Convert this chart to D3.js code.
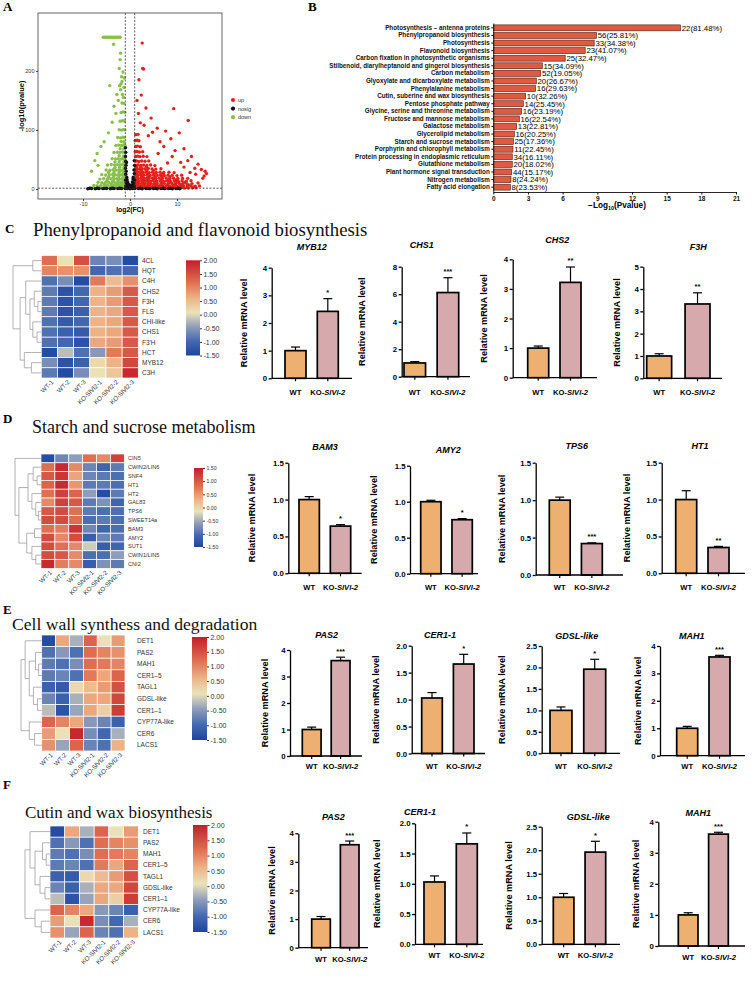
<!DOCTYPE html>
<html>
<head>
<meta charset="utf-8">
<script src="https://cdn.jsdelivr.net/npm/d3@7"></script>
<style>
  body { margin: 0; background: #fff; }
  svg { display: block; }
</style>
</head>
<body>
<svg id="fig" width="755" height="984"></svg>
<script>
// ---------------- data ----------------

// A: volcano, points are [log2(FC), -log10(pvalue)]
const volcanoGroups = ['up', 'nosig', 'down'];
const volcanoColors = ['#E3211C', '#111111', '#88C04B'];
const volcanoUp = [
  [1.2,1.5],[1.6,1.8],[2.1,1.4],[2.7,1.7],[3.3,1.5],[3.9,1.9],[4.6,1.6],[5.2,1.4],[5.9,1.8],[6.5,1.5],[7.2,1.7],[7.9,1.4],[8.6,1.8],[9.3,1.6],[10.1,1.5],[10.8,1.7],[11.6,1.4],[12.4,1.6],[13.3,1.5],[14.1,1.8],
  [1.5,3.3],[2.4,3.1],[3.6,3.5],[4.8,3.2],[6.0,3.4],[7.3,3.1],[8.5,3.5],[9.7,3.2],[11.0,3.4],[12.3,3.1],[13.6,3.3],
  [1.3,5],[1.8,4.6],[2.4,5.3],[3.0,4.8],[3.6,5.2],[4.2,4.7],[4.9,5.1],[5.6,4.9],[6.3,5.4],[7.0,4.6],[7.7,5.0],[8.4,5.3],[9.1,4.8],[9.9,5.1],[10.6,4.7],[11.4,5.2],[12.2,4.9],[13.0,5.0],[13.9,4.7],[14.8,5.2],
  [1.6,7],[2.8,7.2],[4.0,6.8],[5.3,7.1],[6.7,6.9],[8.0,7.2],[9.4,6.8],[10.9,7.1],[12.5,7],
  [1.1,9],[1.5,9.4],[2.0,8.7],[2.6,9.2],[3.2,8.8],[3.8,9.5],[4.5,9.1],[5.1,8.6],[5.8,9.3],[6.6,8.9],[7.3,9.4],[8.1,8.8],[8.9,9.2],[9.7,8.7],[10.5,9.3],[11.3,9.0],[12.1,8.8],[13.2,9.1],[14.5,10],
  [1.7,11],[2.9,11.2],[4.1,10.8],[5.4,11.1],[6.9,11],[8.4,11.2],[9.9,10.9],[11.6,11.1],
  [1.4,13],[1.9,13.6],[2.5,13.2],[3.1,13.9],[3.7,13.4],[4.4,13.1],[5.0,13.8],[5.7,13.3],[6.4,13.6],[7.1,13.0],[7.8,13.7],[8.6,13.2],[9.4,13.5],[10.3,13.1],[11.1,13.6],[12.0,13.3],[13.0,14],
  [1.6,15.5],[2.7,15.7],[3.9,15.3],[5.2,15.6],[6.7,15.4],[8.2,15.6],[9.8,15.3],
  [1.2,18],[1.7,18.5],[2.3,17.8],[2.9,18.4],[3.5,17.9],[4.1,18.6],[4.8,18.1],[5.5,17.7],[6.2,18.3],[6.9,18.0],[7.7,18.5],[8.5,17.8],[9.3,18.2],[10.2,18.0],[11.2,17.6],[12.3,18],
  [1.5,20.5],[2.6,20.7],[3.9,20.3],[5.3,20.6],[6.8,20.4],[8.5,20.6],
  [1.3,23],[1.8,23.5],[2.4,22.8],[3.0,23.4],[3.7,23.1],[4.3,22.7],[5.0,23.6],[5.8,23.0],[6.5,23.3],[7.3,22.9],[8.1,23.4],[9.0,23.0],[10.0,22.6],[11.0,23.2],
  [1.5,25.5],[2.6,25.7],[3.8,25.3],[5.2,25.6],[6.9,25.4],
  [1.2,28],[1.6,28.6],[2.2,27.8],[2.8,28.4],[3.4,28.1],[4.1,27.7],[4.8,28.5],[5.6,28.0],[6.4,28.3],[7.2,27.9],[8.3,28.2],[9.4,27.6],
  [1.4,31],[2.4,31.2],[3.6,30.8],[5.0,31.1],
  [1.1,34],[1.5,34.5],[2.0,33.7],[2.6,34.3],[3.2,33.9],[3.9,34.6],[4.7,34.0],[5.5,33.6],[6.6,34.2],
  [1.4,37],[2.3,37.2],[3.5,36.8],
  [1.2,40],[1.7,40.6],[2.3,39.7],[2.9,40.3],[3.6,39.9],[4.4,40.5],[5.3,39.6],
  [1.1,47],[1.4,47.5],[1.9,46.6],[2.5,47.3],[3.2,46.9],[4.0,47.4],
  [1.2,55],[1.6,55.6],[2.1,54.7],[2.8,55.3],[3.6,54.8],
  [1.1,63],[1.5,63.5],[2.0,62.6],[2.7,63.2],
  [1.2,72],[1.6,72.5],[2.2,71.6],
  [1.1,82],[1.5,82.4],[1.9,81.6],
  [1.2,92],[1.7,92.5],
  [2.6,247],[2.7,204],[2.9,203],[1.9,185],[2.4,159],[1.5,150],[3.4,137],[9.3,136],[12.4,116],[4.5,120],[1.8,128],[2.2,112],
  [3.0,108],[5.8,103],[7.6,98],[4.8,96],[10.5,95],[8.7,85],[3.9,90],[6.4,80],[7.2,72],[11.5,68],[9.6,65],[13.1,55],
  [12.3,48],[14.5,42],[10.8,45],[15.2,33],[16.0,30],[13.8,35],[9.0,55],[6.0,60],[8.0,44],[11.5,37],[14.0,25],[15.5,18],
  [12.8,28],[16.3,26],[15.8,22]
];
const volcanoDown = [
  [-1.2,1.8],[-1.6,1.5],[-2.1,2.0],[-2.6,1.6],[-3.1,1.9],[-3.7,1.5],[-4.3,1.8],[-4.9,1.6],[-5.6,2.0],[-6.3,1.7],[-7.0,1.5],[-7.8,1.9],[-8.5,1.6],
  [-1.5,4],[-2.6,4.2],[-3.8,3.8],[-5.1,4.1],[-6.5,3.9],
  [-1.3,6],[-1.8,5.6],[-2.3,6.3],[-2.9,5.8],[-3.5,6.2],[-4.1,5.7],[-4.8,6.4],[-5.5,5.9],[-6.2,6.1],[-7.0,5.6],[-7.7,6.0],
  [-1.6,8.5],[-2.7,8.7],[-4.0,8.3],[-5.4,8.6],
  [-1.1,11],[-1.5,11.5],[-2.0,10.6],[-2.6,11.3],[-3.2,10.8],[-3.8,11.4],[-4.5,10.9],[-5.2,11.2],[-6.0,10.7],[-6.8,11.3],
  [-1.5,14],[-2.5,14.2],[-3.6,13.8],[-4.9,14.1],
  [-1.3,17],[-1.7,17.5],[-2.2,16.6],[-2.8,17.3],[-3.4,16.8],[-4.1,17.4],[-4.8,16.9],[-5.6,17.2],[-6.4,16.7],
  [-1.4,20.5],[-2.4,20.7],[-3.5,20.3],[-4.6,20.6],
  [-1.2,24],[-1.6,24.6],[-2.0,23.7],[-2.5,24.3],[-3.1,23.8],[-3.7,24.5],[-4.4,24.0],[-5.2,23.6],[-6.0,24.2],
  [-1.4,28],[-2.3,28.2],[-3.4,27.8],[-4.6,28.1],
  [-1.1,32],[-1.4,32.6],[-1.9,31.7],[-2.4,32.4],[-3.0,31.9],[-3.6,32.5],[-4.3,31.8],[-5.1,32.2],
  [-1.3,36.5],[-2.2,36.7],[-3.2,36.3],
  [-1.2,41],[-1.6,41.6],[-2.1,40.7],[-2.7,41.3],[-3.3,40.8],[-4.0,41.5],[-4.8,40.6],
  [-1.3,46],[-2.3,46.2],[-3.2,45.8],
  [-1.1,51],[-1.5,51.6],[-1.9,50.7],[-2.5,51.3],[-3.1,50.8],[-3.8,51.4],
  [-1.4,56],[-2.3,56.2],
  [-1.2,62],[-1.6,62.6],[-2.1,61.7],[-2.7,62.3],[-3.4,61.8],
  [-1.3,68],[-2.1,68.2],
  [-1.1,74],[-1.4,74.5],[-1.8,73.6],[-2.4,74.2],[-3.0,73.8],
  [-1.3,80],[-1.9,80.3],
  [-1.2,87],[-1.5,87.5],[-2.0,86.6],[-2.6,87.2],
  [-1.1,100],[-1.4,100.5],[-1.8,99.6],[-2.3,100.2],
  [-1.2,115],[-1.6,115.5],[-2.1,114.6],
  [-1.1,130],[-1.5,130.5],[-1.9,129.6],
  [-1.3,145],[-1.7,145.5],
  [-5.7,257],[-5.4,257],[-5.1,257],[-4.8,257],[-4.5,257],[-4.2,257],[-3.9,257],[-3.6,257],[-3.3,257],[-3.0,257],[-2.7,257],[-2.4,257],[-2.1,257],
  [-3.5,245],[-2.1,219],[-2.3,204],[-4.3,175],[-1.8,190],[-1.6,160],[-2.0,168],[-1.4,155],[-2.5,150],[-1.3,172],[-7.0,60],
  [-7.5,48],[-6.2,72],[-3.0,128],[-3.8,113],[-4.6,95],[-5.5,80],[-8.2,30],[-6.8,40],[-3.4,140],[-2.8,160],[-1.9,178],
  [-2.0,230],[-1.5,198],[-1.7,182],[-2.2,175],[-1.2,188]
];
const volcanoNosig = [
  [-9.0,0.4],[-8.2,0.8],[-7.4,0.3],[-6.6,0.9],[-5.8,0.5],[-5.0,0.7],[-4.2,0.4],[-3.4,0.9],[-2.6,0.6],[-1.8,0.8],[-1.0,0.5],[-0.5,0.9],
  [0.0,0.4],[0.5,0.8],[1.0,0.6],[1.8,0.9],[2.6,0.4],[3.4,0.7],[4.2,0.5],[5.0,0.9],[5.8,0.3],[6.6,0.7],[7.4,0.5],[8.2,0.8],[9.0,0.4],[9.8,0.6],[10.6,0.3],
  [-8.6,1.1],[-7.0,1.2],[-5.4,1.0],[-3.8,1.2],[-2.2,1.1],[-0.8,1.2],[0.8,1.1],[2.2,1.2],[3.8,1.0],[5.4,1.2],[7.0,1.1],[8.6,1.0],[10.2,1.1],
  [-0.9,5],[-0.8,10],[-0.95,15],[-0.7,20],[-0.9,25],[-0.8,30],[-0.95,35],[-0.85,40],[-0.9,47],[-0.95,55],[-0.9,62],[-0.95,70],
  [-0.6,6],[-0.5,12],[-0.65,16],[-0.4,3],[-0.3,8],[-0.75,45],
  [0.9,5],[0.8,10],[0.95,15],[0.7,20],[0.9,26],[0.85,32],[0.95,40],[0.9,48],[0.6,6],[0.5,12],[0.65,17],[0.4,3],[0.3,7],[0.2,2],[-0.2,2],
  [-0.6,2],[-0.2,4],[0.2,5],[0.6,3],[0.1,1.5],[-0.1,2.5]
];

// B: KEGG enrichment
const pathways = [
  'Photosynthesis \u2013 antenna proteins', 'Phenylpropanoid biosynthesis', 'Photosynthesis', 'Flavonoid biosynthesis',
  'Carbon fixation in photosynthetic organisms', 'Stilbenoid, diarylheptanoid and gingerol biosynthesis', 'Carbon metabolism',
  'Glyoxylate and dicarboxylate metabolism', 'Phenylalanine metabolism', 'Cutin, suberine and wax biosynthesis',
  'Pentose phosphate pathway', 'Glycine, serine and threonine metabolism', 'Fructose and mannose metabolism',
  'Galactose metabolism', 'Glycerolipid metabolism', 'Starch and sucrose metabolism', 'Porphyrin and chlorophyll metabolism',
  'Protein processing in endoplasmic reticulum', 'Glutathione metabolism', 'Plant hormone signal transduction',
  'Nitrogen metabolism', 'Fatty acid elongation'
];
const pathwayLogP = [16.2, 8.93, 8.73, 7.95, 6.22, 4.24, 4.10, 3.72, 3.66, 2.80, 2.60, 2.45, 2.25, 2.02, 1.82, 1.73, 1.70, 1.64, 1.64, 1.59, 1.53, 1.47];
const pathwayCount = [22, 56, 33, 23, 25, 15, 52, 20, 16, 10, 14, 16, 16, 13, 16, 25, 11, 34, 20, 44, 8, 8];
const pathwayPct = ['81.48%', '25.81%', '34.38%', '41.07%', '32.47%', '34.09%', '19.05%', '26.67%', '29.63%', '32.26%', '25.45%',
  '23.19%', '22.54%', '22.81%', '20.25%', '17.36%', '22.45%', '16.11%', '18.02%', '15.17%', '24.24%', '23.53%'];
const keggTicks = [0, 3, 6, 9, 12, 15, 18, 21];

// heatmaps
const samples = ['WT-1', 'WT-2', 'WT-3', 'KO-SlVl2-1', 'KO-SlVl2-2', 'KO-SlVl2-3'];
const genesC = ['4CL', 'HQT', 'C4H', 'CHS2', 'F3H', 'FLS', 'CHI-like', 'CHS1', "F3'H", 'HCT', 'MYB12', 'C3H'];
const heatC = [
  [1.2, 0.1, 1.5, -0.7, -0.6, -1.4],
  [1.0, 0.9, 0.9, -1.0, -0.9, -1.0],
  [-0.9, -0.6, -1.4, 1.1, 0.5, 0.9],
  [-0.8, -1.3, -1.0, 0.6, 0.8, 1.4],
  [-0.8, -1.3, -1.0, 0.6, 0.8, 1.4],
  [-0.8, -1.3, -1.1, 0.6, 0.7, 1.4],
  [-0.9, -1.2, -1.0, 0.6, 0.7, 1.4],
  [-0.9, -1.1, -1.2, 0.6, 0.7, 1.4],
  [-0.9, -1.0, -1.3, 0.7, 0.8, 1.4],
  [-1.4, -0.2, -0.9, -0.5, 1.1, 1.4],
  [-0.6, -1.3, -1.1, 0.2, 0.6, 1.6],
  [-0.8, -1.4, -0.6, 0.1, 0.4, 1.9]
];
const cbTicksC = [2, 1.5, 1, 0.5, 0, -0.5, -1, -1.5];

const genesD = ['CIN5', 'CWIN2/LIN6', 'SNF4', 'HT1', 'HT2', 'GAL83', 'TPS6', 'SWEET14a', 'BAM3', 'AMY2', 'SUT1', 'CWIN1/LIN5', 'CNI2'];
const heatD = [
  [-1.4, -0.8, -0.6, 0.8, 0.6, 1.2],
  [0.8, 1.4, 0.6, -0.8, -1.1, -0.9],
  [1.0, 1.3, 0.4, -0.8, -0.9, -1.0],
  [0.9, 1.4, 0.5, -0.9, -0.9, -1.0],
  [0.8, 1.2, 0.9, -0.6, -1.4, -0.9],
  [0.6, 1.2, 1.0, -0.9, -0.7, -1.1],
  [1.0, 1.1, 0.8, -0.9, -1.0, -1.0],
  [1.1, 1.1, 0.8, -1.0, -0.9, -1.0],
  [0.8, 0.7, 1.3, -0.8, -1.1, -1.0],
  [1.1, 0.6, 1.1, -1.2, -0.8, -0.9],
  [1.1, 0.8, 0.6, -0.3, -1.2, -1.1],
  [1.1, 1.0, 0.6, -1.0, -1.0, -0.6],
  [1.4, 0.7, 0.6, -1.2, -0.7, -0.9]
];
const cbTicksD = [1.5, 1, 0.5, 0, -0.5, -1, -1.5];

const genesE = ['DET1', 'PAS2', 'MAH1', 'CER1\u20135', 'TAGL1', 'GDSL-like', 'CER1\u20131', 'CYP77A-like', 'CER6', 'LACS1'];
const heatE = [
  [-1.4, 0.7, -0.3, 1.3, 0.1, 0.8],
  [-0.9, -0.5, -0.9, 1.2, 1.0, 0.9],
  [-0.8, -0.9, -0.6, 1.2, 1.1, 1.0],
  [-0.8, -0.7, -0.9, 1.1, 0.7, 1.3],
  [-1.1, -1.2, 0.2, 0.5, 0.8, 1.5],
  [-0.7, -1.1, -0.3, 0.7, 0.7, 1.6],
  [-0.2, -1.3, -0.4, 0.7, 0.3, 1.7],
  [1.3, 1.0, 0.7, -0.5, -0.7, -1.1],
  [0.8, 0.1, 1.9, -0.6, -1.0, -0.3],
  [0.9, -0.4, 1.3, -0.7, -0.9, 0.6]
];
const cbTicksE = [2, 1.5, 1, 0.5, 0, -0.5, -1, -1.5];

// row clustering (h = relative merge height)
const treeC = { h: 1, c: [
  { h: 0.3, c: ['4CL', 'HQT'] },
  { h: 0.75, c: [
    { h: 0.55, c: ['C4H', { h: 0.4, c: [
      { h: 0.25, c: ['CHS2', { h: 0.12, c: ['F3H', 'FLS'] }] },
      { h: 0.3, c: ['CHI-like', { h: 0.15, c: ['CHS1', "F3'H"] }] }
    ] }] },
    { h: 0.6, c: ['HCT', { h: 0.35, c: ['MYB12', 'C3H'] }] }
  ] }
] };
const treeD = { h: 1, c: ['CIN5', { h: 0.85, c: [
  { h: 0.5, c: [
    { h: 0.3, c: ['CWIN2/LIN6', { h: 0.15, c: ['SNF4', 'HT1'] }] },
    { h: 0.35, c: ['HT2', { h: 0.2, c: ['GAL83', { h: 0.1, c: ['TPS6', 'SWEET14a'] }] }] }
  ] },
  { h: 0.55, c: [
    { h: 0.25, c: ['BAM3', 'AMY2'] },
    { h: 0.35, c: ['SUT1', { h: 0.2, c: ['CWIN1/LIN5', 'CNI2'] }] }
  ] }
] }] };
const treeE = { h: 1, c: [
  { h: 0.8, c: ['DET1', { h: 0.6, c: [
    { h: 0.3, c: ['PAS2', { h: 0.15, c: ['MAH1', 'CER1\u20135'] }] },
    { h: 0.4, c: ['TAGL1', { h: 0.2, c: ['GDSL-like', 'CER1\u20131'] }] }
  ] }] },
  { h: 0.6, c: ['CYP77A-like', { h: 0.35, c: ['CER6', 'LACS1'] }] }
] };

// qPCR (mean, SEM)
const groups = ['WT', 'KO'];
const qpcrGenesC = ['MYB12', 'CHS1', 'CHS2', 'F3H'];
const qpcrWtC = [1.0, 1.0, 1.0, 1.0];
const qpcrWtErrC = [0.13, 0.10, 0.07, 0.10];
const qpcrKoC = [2.42, 6.12, 3.22, 3.33];
const qpcrKoErrC = [0.46, 1.08, 0.52, 0.50];
const qpcrSigC = ['*', '***', '**', '**'];
const qpcrMaxC = [4, 8, 4, 5];
const qpcrStepC = [1, 2, 1, 1];

const qpcrGenesD = ['BAM3', 'AMY2', 'TPS6', 'HT1'];
const qpcrWtD = [1.0, 1.0, 1.0, 1.0];
const qpcrWtErrD = [0.04, 0.02, 0.04, 0.12];
const qpcrKoD = [0.64, 0.75, 0.42, 0.35];
const qpcrKoErrD = [0.02, 0.015, 0.01, 0.015];
const qpcrSigD = ['*', '*', '***', '**'];
const qpcrMaxD = [1.5, 1.5, 1.5, 1.5];
const qpcrStepD = [0.5, 0.5, 0.5, 0.5];

const qpcrGenesE = ['PAS2', 'CER1-1', 'GDSL-like', 'MAH1'];
const qpcrWtE = [1.0, 1.03, 1.0, 1.0];
const qpcrWtErrE = [0.09, 0.1, 0.08, 0.07];
const qpcrKoE = [3.6, 1.66, 1.96, 3.6];
const qpcrKoErrE = [0.13, 0.18, 0.23, 0.06];
const qpcrSigE = ['***', '*', '*', '***'];
const qpcrMaxE = [4, 2, 2.5, 4];
const qpcrStepE = [1, 0.5, 0.5, 1];

// ---------------- layout ----------------
const SANS = '"Liberation Sans", Arial, Helvetica, sans-serif';
const SERIF = '"Liberation Serif", "Times New Roman", serif';
const wtFill = '#EDB070';
const koFill = '#D6A9AC';
const palette = ['#1E45A0', '#4469B0', '#8E9DBA', '#EAE3B8', '#EDB387', '#DE6A4F', '#C31F2A'];
const paletteStops = [0, 0.15, 0.3, 0.45, 0.6, 0.78, 1];

const heatLayoutC = { id: 'C', x0: 41.3, x1: 138.3, y0: 255.5, y1: 378, treeX: 13, labelX: 142, font: 6.5, cbX: 186, cbW: 14, cbTop: 260.3, cbBot: 355.5, cbFont: 7 };
const heatLayoutD = { id: 'D', x0: 41, x1: 124.3, y0: 454, y1: 568.4, treeX: 15, labelX: 128, font: 5.6, cbX: 194, cbW: 9, cbTop: 468, cbBot: 547, cbFont: 5.2 };
const heatLayoutE = { id: 'E', x0: 41.7, x1: 125, y0: 635, y1: 751, treeX: 21, labelX: 137, font: 6.5, cbX: 192, cbW: 15, cbTop: 637, cbBot: 740, cbFont: 7 };
const heatLayoutF = { id: 'F', x0: 50, x1: 138.3, y0: 826, y1: 938, treeX: 25, labelX: 143, font: 6.5, cbX: 193, cbW: 14.5, cbTop: 825, cbBot: 932, cbFont: 7 };

const qpcrLayoutC = [
  { ax: 271.7, y0: 378.3, yTop: 267.7, b0: 285, b1: 338.3, xEnd: 352, tx: 311.7, ty: 250, lx: 246.5, labY: 395 },
  { ax: 401.7, y0: 376.7, yTop: 266.7, b0: 404, b1: 458.7, xEnd: 470, tx: 421.7, ty: 248, lx: 365, labY: 395 },
  { ax: 512.7, y0: 377.7, yTop: 259.3, b0: 527.7, b1: 581, xEnd: 597, tx: 557.3, ty: 243, lx: 486.5, labY: 395 },
  { ax: 643.3, y0: 378.3, yTop: 266.7, b0: 646.7, b1: 710, xEnd: 722, tx: 698.3, ty: 250, lx: 620, labY: 395 }
];
const qpcrLayoutD = [
  { ax: 288.3, y0: 573.3, yTop: 462.7, b0: 299, b1: 350.7, xEnd: 361.7, tx: 325, ty: 450, lx: 255, labY: 589.5 },
  { ax: 410, y0: 573.7, yTop: 465.7, b0: 420.7, b1: 472.3, xEnd: 478, tx: 448.3, ty: 453, lx: 377, labY: 589.5 },
  { ax: 535.7, y0: 575, yTop: 462.7, b0: 549.3, b1: 602.3, xEnd: 623, tx: 576.7, ty: 449, lx: 505, labY: 589.5 },
  { ax: 661.7, y0: 573.3, yTop: 462.7, b0: 675.7, b1: 729, xEnd: 745, tx: 700, ty: 449, lx: 630, labY: 589.5 }
];
const qpcrLayoutE = [
  { ax: 290, y0: 756, yTop: 650, b0: 302.3, b1: 350, xEnd: 362, tx: 326.7, ty: 638, lx: 267.8, labY: 769 },
  { ax: 411.7, y0: 753.5, yTop: 645.7, b0: 421.7, b1: 474, xEnd: 485, tx: 440, ty: 638, lx: 379, labY: 769 },
  { ax: 541.7, y0: 753.3, yTop: 646, b0: 550, b1: 605.7, xEnd: 620, tx: 576.7, ty: 639, lx: 505, labY: 769 },
  { ax: 660, y0: 755.7, yTop: 646, b0: 676.7, b1: 730, xEnd: 745, tx: 691.7, ty: 639, lx: 641, labY: 769 }
];
const qpcrLayoutF = [
  { ax: 298.3, y0: 947.7, yTop: 833.3, b0: 311.7, b1: 359, xEnd: 368, tx: 333.3, ty: 820, lx: 275, labY: 962 },
  { ax: 415, y0: 944.3, yTop: 823.3, b0: 424, b1: 477.3, xEnd: 483, tx: 420, ty: 815, lx: 380, labY: 958 },
  { ax: 541.7, y0: 944.3, yTop: 826.7, b0: 553.3, b1: 605.7, xEnd: 620, tx: 588.3, ty: 820, lx: 511.7, labY: 958 },
  { ax: 658.3, y0: 946, yTop: 821.7, b0: 678.3, b1: 728.3, xEnd: 745, tx: 698.3, ty: 816, lx: 638.5, labY: 960 }
];

// ---------------- drawing ----------------
const svg = d3.select('#fig');
svg.append('rect').attr('width', 755).attr('height', 984).attr('fill', '#fff');
const defs = svg.append('defs');

function styleAxis(sel, size, weight, color) {
  sel.attr('font-family', SANS).attr('font-size', size).attr('font-weight', weight || 'normal');
  sel.selectAll('text').attr('fill', color || '#000');
  sel.selectAll('line, path').attr('stroke', color || '#000');
}

function panelLetter(t, x, y) {
  svg.append('text').attr('x', x).attr('y', y).text(t)
    .attr('font-family', SERIF).attr('font-weight', 'bold').attr('font-size', 13);
}

function sectionTitle(t, x, y, size) {
  svg.append('text').attr('x', x).attr('y', y).text(t)
    .attr('font-family', SERIF).attr('font-size', size).attr('fill', '#111');
}

function drawVolcano() {
  const g = svg.append('g');
  const x = d3.scaleLinear().domain([-19.6, 19.6]).range([38, 222]);
  const y = d3.scaleLinear().domain([-17, 298]).range([199, 13]);

  const sets = [volcanoUp, volcanoNosig, volcanoDown];
  [0, 2, 1].forEach(i => {
    g.append('g').selectAll('circle').data(sets[i]).join('circle')
      .attr('cx', d => x(d[0])).attr('cy', d => y(d[1]))
      .attr('r', 1.7).attr('fill', volcanoColors[i]);
  });

  [-1, 1].forEach(v => {
    g.append('line').attr('x1', x(v)).attr('x2', x(v)).attr('y1', y.range()[1]).attr('y2', y.range()[0])
      .attr('stroke', '#333').attr('stroke-width', 0.8).attr('stroke-dasharray', '2,1.5');
  });
  g.append('line').attr('x1', x.range()[0]).attr('x2', x.range()[1])
    .attr('y1', y(-Math.log10(0.05))).attr('y2', y(-Math.log10(0.05)))
    .attr('stroke', '#333').attr('stroke-width', 0.8).attr('stroke-dasharray', '2,1.5');

  g.append('rect').attr('x', x.range()[0]).attr('y', y.range()[1])
    .attr('width', x.range()[1] - x.range()[0]).attr('height', y.range()[0] - y.range()[1])
    .attr('fill', 'none').attr('stroke', '#555').attr('stroke-width', 0.9);

  const xa = g.append('g').attr('transform', `translate(0,${y.range()[0]})`)
    .call(d3.axisBottom(x).tickValues([-10, 0, 10]).tickSize(2).tickPadding(1.5).tickFormat(d => d));
  xa.select('.domain').remove();
  styleAxis(xa, 5.5, 'normal', '#333');
  const ya = g.append('g').attr('transform', `translate(${x.range()[0]},0)`)
    .call(d3.axisLeft(y).tickValues([0, 100, 200]).tickSize(2).tickPadding(1.5));
  ya.select('.domain').remove();
  styleAxis(ya, 5.5, 'normal', '#333');

  g.append('text').attr('transform', 'translate(24,106) rotate(-90)').attr('text-anchor', 'middle')
    .attr('font-family', SANS).attr('font-weight', 'bold').attr('font-size', 7.5).text('-log10(pvalue)');
  g.append('text').attr('x', 130).attr('y', 211.5).attr('text-anchor', 'middle')
    .attr('font-family', SANS).attr('font-weight', 'bold').attr('font-size', 6.8).text('log2(FC)');

  const lg = g.append('g').selectAll('g').data(volcanoGroups).join('g')
    .attr('transform', (d, i) => `translate(233,${100 + i * 8.6})`);
  lg.append('circle').attr('r', 2.1).attr('fill', (d, i) => volcanoColors[i]);
  lg.append('text').attr('x', 5).attr('dy', '0.35em').attr('font-family', SANS).attr('font-size', 5.5)
    .attr('fill', '#333').text(d => d);
}

function drawKegg() {
  const g = svg.append('g');
  const x = d3.scaleLinear().domain([0, 21]).range([493.3, 736]);
  const y = d3.scaleBand().domain(pathways).range([23, 192]).paddingInner(0.22).paddingOuter(0.25);

  g.selectAll('rect.bar').data(pathways).join('rect').attr('class', 'bar')
    .attr('x', x(0)).attr('y', d => y(d))
    .attr('width', (d, i) => x(pathwayLogP[i]) - x(0)).attr('height', y.bandwidth())
    .attr('fill', '#E05A42').attr('stroke', '#4a1a10').attr('stroke-width', 0.6);

  g.selectAll('text.val').data(pathways).join('text').attr('class', 'val')
    .attr('x', (d, i) => x(pathwayLogP[i]) + 1.2).attr('y', d => y(d) + y.bandwidth() / 2)
    .attr('dy', '0.36em').attr('font-family', SANS).attr('font-size', 7.8)
    .text((d, i) => `${pathwayCount[i]}(${pathwayPct[i]})`);

  const ya = g.append('g').attr('transform', `translate(${x(0)},0)`)
    .call(d3.axisLeft(y).tickSize(2).tickPadding(1.5).tickSizeOuter(0));
  styleAxis(ya, 6.3, 'bold', '#111');
  ya.select('.domain').attr('stroke-width', 0.9);

  const xa = g.append('g').attr('transform', `translate(0,192)`)
    .call(d3.axisBottom(x).tickValues(keggTicks).tickSize(2.5).tickPadding(1.5).tickSizeOuter(0));
  styleAxis(xa, 6.5, 'bold', '#111');
  xa.select('.domain').attr('stroke-width', 0.9);

  const t = g.append('text').attr('x', 617).attr('y', 208).attr('text-anchor', 'middle')
    .attr('font-family', SANS).attr('font-weight', 'bold').attr('font-size', 8.2);
  t.append('tspan').text('\u2212Log');
  t.append('tspan').attr('font-size', 5.5).attr('dy', 1.8).text('10');
  t.append('tspan').attr('dy', -1.8).text('(Pvalue)');
}

function layoutTree(node, yPos) {
  if (typeof node === 'string') return { y: yPos(node), h: 0 };
  const kids = node.c.map(k => layoutTree(k, yPos));
  return { y: (kids[0].y + kids[kids.length - 1].y) / 2, h: node.h, kids: kids };
}

function drawTree(g, n, xh) {
  if (!n.kids) return;
  g.append('line').attr('x1', xh(n.h)).attr('x2', xh(n.h))
    .attr('y1', n.kids[0].y).attr('y2', n.kids[n.kids.length - 1].y);
  n.kids.forEach(k => {
    g.append('line').attr('x1', xh(n.h)).attr('x2', xh(k.h)).attr('y1', k.y).attr('y2', k.y);
    drawTree(g, k, xh);
  });
}

function drawHeatmap(lay, genes, values, tree, cbTicks) {
  const g = svg.append('g');
  const x = d3.scaleBand().domain(samples).range([lay.x0, lay.x1]);
  const y = d3.scaleBand().domain(genes).range([lay.y0, lay.y1]);
  const lo = d3.min(cbTicks), hi = d3.max(cbTicks);
  const color = d3.scaleLinear().domain(paletteStops.map(t => lo + t * (hi - lo))).range(palette).clamp(true);

  const rows = g.selectAll('g.row').data(values).join('g').attr('class', 'row')
    .attr('transform', (d, i) => `translate(0,${y(genes[i])})`);
  rows.selectAll('rect').data(d => d).join('rect')
    .attr('x', (d, j) => x(samples[j])).attr('width', x.bandwidth()).attr('height', y.bandwidth())
    .attr('fill', d => color(d)).attr('stroke', '#fff').attr('stroke-width', 0.7);

  g.selectAll('text.gene').data(genes).join('text').attr('class', 'gene')
    .attr('x', lay.labelX).attr('y', d => y(d) + y.bandwidth() / 2).attr('dy', '0.35em')
    .attr('font-family', SANS).attr('font-size', lay.font).attr('fill', '#333').text(d => d);

  g.selectAll('text.sample').data(samples).join('text').attr('class', 'sample')
    .attr('transform', d => `translate(${x(d) + x.bandwidth() / 2 + 3},${lay.y1 + 3}) rotate(-45)`)
    .attr('text-anchor', 'end').attr('dy', '0.35em')
    .attr('font-family', SANS).attr('font-size', 6.3).attr('fill', '#333').text(d => d);

  const root = layoutTree(tree, d => y(d) + y.bandwidth() / 2);
  const xh = d3.scaleLinear().domain([0, 1]).range([lay.x0, lay.treeX]);
  const tg = g.append('g').attr('stroke', '#9a9a9a').attr('stroke-width', 0.75).attr('fill', 'none');
  drawTree(tg, root, xh);

  const gid = 'cb' + lay.id;
  const grad = defs.append('linearGradient').attr('id', gid)
    .attr('x1', 0).attr('y1', 1).attr('x2', 0).attr('y2', 0);
  grad.selectAll('stop').data(paletteStops).join('stop')
    .attr('offset', d => d).attr('stop-color', (d, i) => palette[i]);
  const cy = d3.scaleLinear().domain([lo, hi]).range([lay.cbBot, lay.cbTop]);
  g.append('rect').attr('x', lay.cbX).attr('y', lay.cbTop).attr('width', lay.cbW)
    .attr('height', lay.cbBot - lay.cbTop).attr('fill', `url(#${gid})`);
  const ca = g.append('g').attr('transform', `translate(${lay.cbX + lay.cbW},0)`)
    .call(d3.axisRight(cy).tickValues(cbTicks).tickSize(2).tickPadding(1.5).tickSizeOuter(0).tickFormat(d => d.toFixed(2)));
  ca.select('.domain').remove();
  styleAxis(ca, lay.cbFont, 'normal', '#333');
}

function drawQpcr(lay, gene, wt, wtErr, ko, koErr, sig, yMax, yStep) {
  const g = svg.append('g');
  const y = d3.scaleLinear().domain([0, yMax]).range([lay.y0, lay.yTop]);
  const x = d3.scaleBand().domain(groups).range([lay.b0, lay.b1]).paddingInner(0.35);
  const means = [wt, ko], errs = [wtErr, koErr];

  g.selectAll('line.err').data(groups).join('line').attr('class', 'err')
    .attr('x1', d => x(d) + x.bandwidth() / 2).attr('x2', d => x(d) + x.bandwidth() / 2)
    .attr('y1', (d, i) => y(means[i])).attr('y2', (d, i) => y(means[i] + errs[i]))
    .attr('stroke', '#000').attr('stroke-width', 1.2);
  g.selectAll('line.cap').data(groups).join('line').attr('class', 'cap')
    .attr('x1', d => x(d) + x.bandwidth() / 2 - 4.5).attr('x2', d => x(d) + x.bandwidth() / 2 + 4.5)
    .attr('y1', (d, i) => y(means[i] + errs[i])).attr('y2', (d, i) => y(means[i] + errs[i]))
    .attr('stroke', '#000').attr('stroke-width', 1.2);

  g.selectAll('rect').data(groups).join('rect')
    .attr('x', d => x(d)).attr('width', x.bandwidth())
    .attr('y', (d, i) => y(means[i])).attr('height', (d, i) => y(0) - y(means[i]))
    .attr('fill', (d, i) => i === 0 ? wtFill : koFill).attr('stroke', '#000').attr('stroke-width', 1.7);

  g.append('text').attr('x', x('KO') + x.bandwidth() / 2).attr('y', y(ko + koErr) - 3.5)
    .attr('text-anchor', 'middle').attr('font-family', SANS).attr('font-weight', 'bold')
    .attr('font-size', 7.5).text(sig);

  const ya = g.append('g').attr('transform', `translate(${lay.ax},0)`)
    .call(d3.axisLeft(y).tickValues(d3.range(0, yMax + 1e-9, yStep)).tickSize(3).tickPadding(1.5).tickSizeOuter(0)
      .tickFormat(yStep < 1 ? d3.format('.1f') : d3.format('d')));
  styleAxis(ya, 7.8, 'bold');
  ya.selectAll('line, path').attr('stroke-width', 1.3);

  g.append('line').attr('x1', lay.ax).attr('x2', lay.xEnd).attr('y1', y(0)).attr('y2', y(0))
    .attr('stroke', '#000').attr('stroke-width', 1.3);
  g.selectAll('line.xt').data(groups).join('line').attr('class', 'xt')
    .attr('x1', d => x(d) + x.bandwidth() / 2).attr('x2', d => x(d) + x.bandwidth() / 2)
    .attr('y1', y(0)).attr('y2', y(0) + 3).attr('stroke', '#000').attr('stroke-width', 1.2);

  const lab = g.selectAll('text.xl').data(groups).join('text').attr('class', 'xl')
    .attr('x', d => x(d) + x.bandwidth() / 2).attr('y', lay.labY).attr('text-anchor', 'middle')
    .attr('font-family', SANS).attr('font-weight', 'bold').attr('font-size', 7.6);
  lab.filter(d => d === 'WT').text('WT');
  const koLab = lab.filter(d => d === 'KO');
  koLab.append('tspan').text('KO-');
  koLab.append('tspan').attr('font-style', 'italic').text('SlVl-2');

  g.append('text').attr('x', lay.tx).attr('y', lay.ty).attr('text-anchor', 'middle')
    .attr('font-family', SANS).attr('font-weight', 'bold').attr('font-style', 'italic')
    .attr('font-size', 9).text(gene);

  g.append('text').attr('transform', `translate(${lay.lx},${(lay.y0 + lay.yTop) / 2}) rotate(-90)`)
    .attr('text-anchor', 'middle').attr('font-family', SANS).attr('font-weight', 'bold')
    .attr('font-size', 9.2).text('Relative mRNA level');
}

function drawQpcrRow(layouts, genes, wt, wtErr, ko, koErr, sig, maxes, steps) {
  layouts.forEach((lay, i) => drawQpcr(lay, genes[i], wt[i], wtErr[i], ko[i], koErr[i], sig[i], maxes[i], steps[i]));
}

// A, B
panelLetter('A', 3, 11);
drawVolcano();
panelLetter('B', 308, 11);
drawKegg();

// C
panelLetter('C', 5, 233);
sectionTitle('Phenylpropanoid and flavonoid biosynthesis', 33, 235.5, 18.8);
drawHeatmap(heatLayoutC, genesC, heatC, treeC, cbTicksC);
drawQpcrRow(qpcrLayoutC, qpcrGenesC, qpcrWtC, qpcrWtErrC, qpcrKoC, qpcrKoErrC, qpcrSigC, qpcrMaxC, qpcrStepC);

// D
panelLetter('D', 3, 423);
sectionTitle('Starch and sucrose metabolism', 32, 433, 18);
drawHeatmap(heatLayoutD, genesD, heatD, treeD, cbTicksD);
drawQpcrRow(qpcrLayoutD, qpcrGenesD, qpcrWtD, qpcrWtErrD, qpcrKoD, qpcrKoErrD, qpcrSigD, qpcrMaxD, qpcrStepD);

// E
panelLetter('E', 3, 614);
sectionTitle('Cell wall synthess and degradation', 12, 630, 17.6);
drawHeatmap(heatLayoutE, genesE, heatE, treeE, cbTicksE);
drawQpcrRow(qpcrLayoutE, qpcrGenesE, qpcrWtE, qpcrWtErrE, qpcrKoE, qpcrKoErrE, qpcrSigE, qpcrMaxE, qpcrStepE);

// F
panelLetter('F', 3, 789);
sectionTitle('Cutin and wax biosynthesis', 25, 818, 17);
drawHeatmap(heatLayoutF, genesE, heatE, treeE, cbTicksE);
drawQpcrRow(qpcrLayoutF, qpcrGenesE, qpcrWtE, qpcrWtErrE, qpcrKoE, qpcrKoErrE, qpcrSigE, qpcrMaxE, qpcrStepE);
</script>
</body>
</html>
